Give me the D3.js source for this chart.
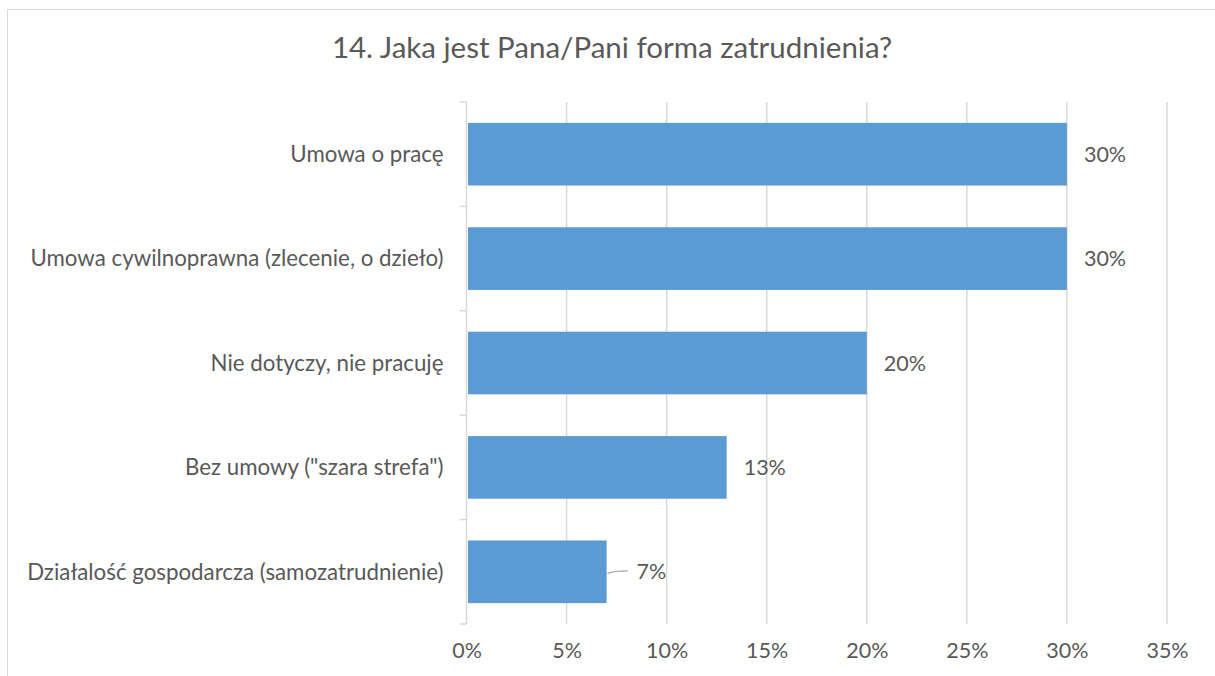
<!DOCTYPE html>
<html>
<head>
<meta charset="utf-8">
<script src="https://cdn.jsdelivr.net/npm/d3@7"></script>
<style>
  html, body { margin: 0; padding: 0; background: #fff; }
  svg { display: block; }
  text { font-family: Lato, "Open Sans", sans-serif; fill: #595959; }
</style>
</head>
<body>
<script>
const width = 1215;
const height = 676;

const title = "14. Jaka jest Pana/Pani forma zatrudnienia?";
const categories = [
    "Umowa o pracę",
    "Umowa cywilnoprawna (zlecenie, o dzieło)",
    "Nie dotyczy, nie pracuję",
    "Bez umowy (\"szara strefa\")",
    "Działalość gospodarcza (samozatrudnienie)"
];
const values = [0.30, 0.30, 0.20, 0.13, 0.07];
const labels = ["30%", "30%", "20%", "13%", "7%"];
const xTicks = [0, 0.05, 0.10, 0.15, 0.20, 0.25, 0.30, 0.35];

const margin = {top: 102, left: 466.5, right: 48, bottom: 52};

const svg = d3.select(document.body).append("svg")
    .attr("width", width)
    .attr("height", height);

// chart frame
svg.append("rect")
    .attr("x", 7.5).attr("y", 9.5)
    .attr("width", width + 20).attr("height", height + 20)
    .attr("fill", "none")
    .attr("stroke", "#d9d9d9");

const x = d3.scaleLinear()
    .domain([0, 0.35])
    .range([margin.left, width - margin.right]);

const y = d3.scaleBand()
    .domain(categories)
    .range([margin.top, height - margin.bottom])
    .paddingInner(0.4)
    .paddingOuter(0.2);

// gridlines
svg.append("g")
    .attr("stroke", "#d9d9d9")
    .attr("stroke-width", 1.5)
    .selectAll("line")
    .data(xTicks.slice(1))
    .join("line")
    .attr("x1", d => x(d)).attr("x2", d => x(d))
    .attr("y1", margin.top).attr("y2", height - margin.bottom);

// x axis labels
const xAxis = svg.append("g")
    .attr("transform", `translate(0,${height - margin.bottom})`)
    .call(d3.axisBottom(x).tickValues(xTicks).tickFormat(d3.format(".0%")).tickSize(0).tickPadding(19));
xAxis.select(".domain").remove();
xAxis.selectAll("text")
    .attr("font-family", "Lato, 'Open Sans', sans-serif")
    .attr("font-size", 21.5)
    .attr("fill", "#595959");

// y axis with tick marks at category boundaries
const yAxis = svg.append("g")
    .attr("transform", `translate(${margin.left},0)`);
yAxis.append("line")
    .attr("x1", 0).attr("x2", 0)
    .attr("y1", margin.top).attr("y2", height - margin.bottom)
    .attr("stroke", "#d9d9d9").attr("stroke-width", 1.5);
const bounds = categories.map(c => y(c) - y.step() * y.paddingInner() / 2)
    .concat([height - margin.bottom]);
bounds[0] = margin.top;
yAxis.selectAll(".tk")
    .data(bounds)
    .join("line")
    .attr("class", "tk")
    .attr("x1", -7).attr("x2", 0)
    .attr("y1", d => d).attr("y2", d => d)
    .attr("stroke", "#d9d9d9").attr("stroke-width", 1.5);
yAxis.selectAll(".cat")
    .data(categories)
    .join("text")
    .attr("class", "cat")
    .attr("x", -23)
    .attr("y", d => y(d) + y.bandwidth() / 2)
    .attr("dy", "0.35em")
    .attr("text-anchor", "end")
    .attr("font-size", 22.3)
    .text(d => d);

// bars
svg.append("g")
    .attr("fill", "#5b9bd5")
    .selectAll("rect")
    .data(values)
    .join("rect")
    .attr("x", x(0) + 1.5)
    .attr("y", (d, i) => y(categories[i]))
    .attr("width", d => x(d) - x(0) - 1.5)
    .attr("height", y.bandwidth());

// data labels (smallest one moved out with a leader line)
const labelOffset = values.map(d => d < 0.1 ? 30 : 17);
svg.append("g")
    .selectAll("text")
    .data(values)
    .join("text")
    .attr("x", (d, i) => x(d) + labelOffset[i])
    .attr("y", (d, i) => y(categories[i]) + y.bandwidth() / 2)
    .attr("dy", "0.35em")
    .attr("font-size", 21.5)
    .text((d, i) => labels[i]);

svg.append("g")
    .selectAll("path")
    .data(values.filter(d => d < 0.1))
    .join("path")
    .attr("d", d => {
        const i = values.indexOf(d);
        const cy = y(categories[i]) + y.bandwidth() / 2;
        const x0 = x(d) + 1, x1 = x(d) + 21;
        return `M${x0},${cy + 1.5}Q${x0 + 6},${cy - 1} ${x1},${cy - 1}`;
    })
    .attr("fill", "none")
    .attr("stroke", "#a6a6a6")
    .attr("stroke-width", 1.3);

// title
svg.append("text")
    .attr("x", 612)
    .attr("y", 48)
    .attr("dy", "0.35em")
    .attr("text-anchor", "middle")
    .attr("font-size", 29.5)
    .text(title);
</script>
</body>
</html>
